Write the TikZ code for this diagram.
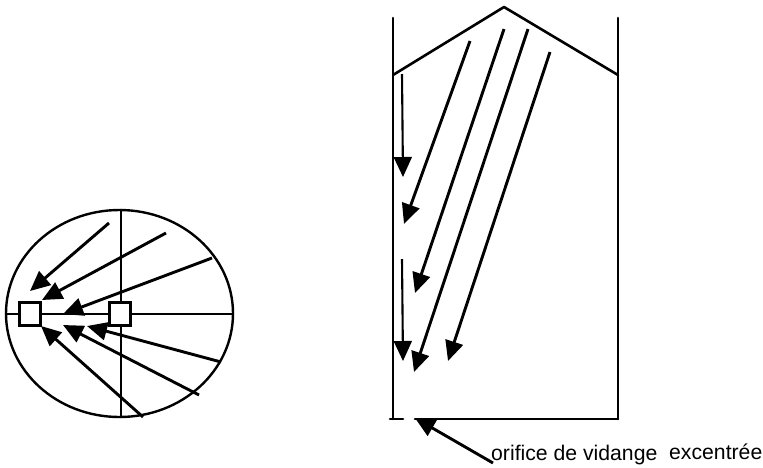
\documentclass[tikz,border=0pt]{standalone}
\usepackage{fontspec}
\setmainfont{Liberation Sans}
\usetikzlibrary{arrows.meta,shapes.geometric}
\tikzset{
  wall/.style={line width=2.6pt,black,line cap=round},
  flow/.style={line width=2.9pt,black,-{Triangle[length=20pt,width=18pt]}},
  thinflow/.style={line width=2.1pt,black,-{Triangle[length=20pt,width=18pt]}},
  port/.style={draw=black,fill=white,line width=2.8pt,minimum width=21pt,minimum height=23pt,inner sep=0pt,rectangle},
  lbl/.style={inner sep=0pt,anchor=base west,font=\fontsize{21.2pt}{24pt}\selectfont}
}
\begin{document}
\begin{tikzpicture}[x=1pt,y=-1pt]
\useasboundingbox (0,0) rectangle (763,467);
% plan view
\node[draw=black,line width=2.4pt,ellipse,minimum width=227pt,minimum height=207pt,inner sep=0pt] (disc) at (119.5,313.5) {};
\coordinate (vt) at (121,210); \coordinate (vb) at (121,417);
\coordinate (hl) at (6,314); \coordinate (hr) at (233,314);
\draw[wall] (vt) -- (vb);
\draw[wall] (hl) -- (hr);
\foreach \n/\sx/\sy/\tx/\ty in {a/109/223/30/291,b/166/233/42/300,c/212/258/63/314,d/221/362/87/326,e/199/395/63/325,f/143/417/41/326}{
  \coordinate (\n s) at (\sx,\sy);
  \coordinate (\n t) at (\tx,\ty);
}
\node[port] (p1) at (30,314) {};
\node[port] (p2) at (120,314) {};
\draw[flow] (as) -- (at);
\draw[flow] (bs) -- (bt);
\draw[flow] (cs) -- (ct);
\draw[flow] (ds) -- (dt);
\draw[flow] (es) -- (et);
\draw[flow] (fs) -- (ft);
% silo
\coordinate (wlt) at (393,18); \coordinate (wrt) at (618,18);
\coordinate (rl) at (393,75); \coordinate (rp) at (504,7); \coordinate (rr) at (618,75);
\coordinate (bl) at (393,419); \coordinate (bl0) at (390,419); \coordinate (bl1) at (403,419);
\coordinate (br0) at (415,419); \coordinate (br) at (618,419);
\draw[wall] (wlt) -- (bl);
\draw[wall] (wrt) -- (br);
\draw[wall,line join=round] (rl) -- (rp) -- (rr);
\draw[wall] (bl0) -- (bl1);
\draw[wall] (br0) -- (br);
\coordinate (As) at (402,74); \coordinate (At) at (403,177);
\coordinate (Bs) at (470,41); \coordinate (Bt) at (404,224);
\coordinate (Cs) at (504,29); \coordinate (Ct) at (415,293);
\coordinate (Ds) at (528,29); \coordinate (Dt) at (414,372);
\coordinate (Es) at (550,52); \coordinate (Et) at (448,361);
\coordinate (Fs) at (402,259); \coordinate (Ft) at (403,361);
\coordinate (Gs) at (493,463); \coordinate (Gt) at (415,418);
\draw[thinflow] (As) -- (At);
\draw[flow] (Bs) -- (Bt);
\draw[flow] (Cs) -- (Ct);
\draw[flow] (Ds) -- (Dt);
\draw[flow] (Es) -- (Et);
\draw[thinflow] (Fs) -- (Ft);
\draw[flow] (Gs) -- (Gt);
\node[lbl] (t1) at (491,460) {orifice de vidange};
\node[lbl] (t2) at (669,459) {excentrée};
\end{tikzpicture}
\end{document}
